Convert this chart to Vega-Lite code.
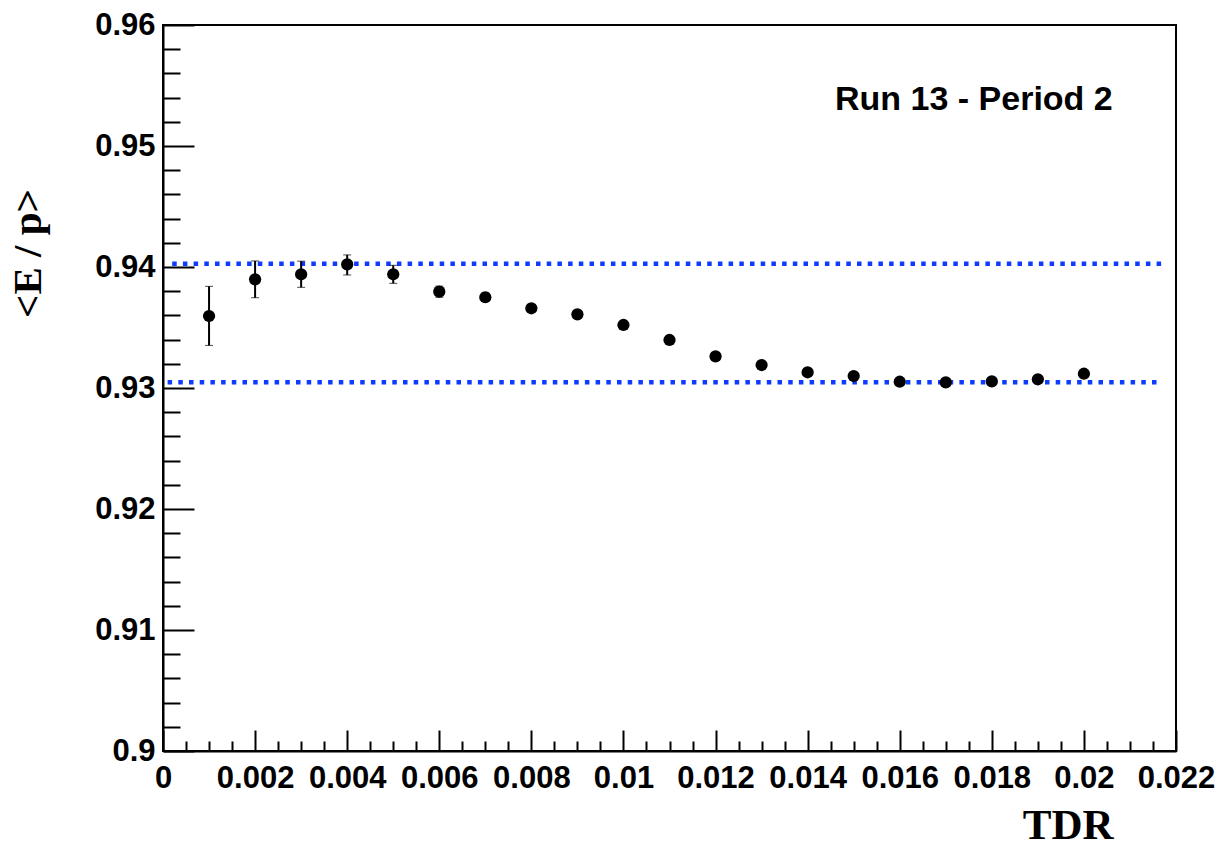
{
  "$schema": "https://vega.github.io/schema/vega-lite/v6.json",
  "width": 1013,
  "height": 726,
  "autosize": "none",
  "padding": {"left": 163, "top": 25, "right": 45, "bottom": 97},
  "background": "white",
  "config": {
    "view": {"stroke": "black", "strokeWidth": 2},
    "axis": {
      "grid": false,
      "labelFont": "Liberation Sans",
      "labelFontWeight": "bold",
      "labelFontSize": 31,
      "labelColor": "black",
      "tickColor": "black",
      "tickWidth": 2,
      "domainColor": "black",
      "domainWidth": 2,
      "titleFont": "Liberation Serif",
      "titleFontWeight": "bold",
      "titleColor": "black"
    }
  },
  "datasets": {
    "pts": [
      {"tdr": 0.001, "ep": 0.93595, "lo": 0.93352, "hi": 0.93840},
      {"tdr": 0.002, "ep": 0.93898, "lo": 0.93746, "hi": 0.94050},
      {"tdr": 0.003, "ep": 0.93940, "lo": 0.93832, "hi": 0.94048},
      {"tdr": 0.004, "ep": 0.94022, "lo": 0.93934, "hi": 0.94100},
      {"tdr": 0.005, "ep": 0.93940, "lo": 0.93865, "hi": 0.94014},
      {"tdr": 0.006, "ep": 0.93796, "lo": 0.93750, "hi": 0.93842},
      {"tdr": 0.007, "ep": 0.93750, "lo": 0.93715, "hi": 0.93785},
      {"tdr": 0.008, "ep": 0.93659, "lo": 0.93635, "hi": 0.93683},
      {"tdr": 0.009, "ep": 0.93609, "lo": 0.93587, "hi": 0.93631},
      {"tdr": 0.010, "ep": 0.93521, "lo": 0.93501, "hi": 0.93541},
      {"tdr": 0.011, "ep": 0.93397, "lo": 0.93379, "hi": 0.93415},
      {"tdr": 0.012, "ep": 0.93262, "lo": 0.93246, "hi": 0.93278},
      {"tdr": 0.013, "ep": 0.93190, "lo": 0.93175, "hi": 0.93205},
      {"tdr": 0.014, "ep": 0.93130, "lo": 0.93116, "hi": 0.93144},
      {"tdr": 0.015, "ep": 0.93099, "lo": 0.93086, "hi": 0.93112},
      {"tdr": 0.016, "ep": 0.93052, "lo": 0.93040, "hi": 0.93064},
      {"tdr": 0.017, "ep": 0.93047, "lo": 0.93035, "hi": 0.93059},
      {"tdr": 0.018, "ep": 0.93055, "lo": 0.93043, "hi": 0.93067},
      {"tdr": 0.019, "ep": 0.93072, "lo": 0.93060, "hi": 0.93084},
      {"tdr": 0.020, "ep": 0.93118, "lo": 0.93106, "hi": 0.93130}
    ],
    "lines": [
      {"x1": 0.0002, "x2": 0.0218, "y": 0.94027},
      {"x1": 0.0001, "x2": 0.0217, "y": 0.93047}
    ],
    "labels": [
      {"x": 0.01761, "y": 0.95298, "text": "Run 13 - Period 2"}
    ]
  },
  "layer": [
    {
      "data": {"name": "lines"},
      "mark": {"type": "rule", "color": "#0d3bff", "strokeWidth": 4.5, "strokeDash": [4.5, 6.2], "strokeCap": "butt"},
      "encoding": {
        "x": {
          "field": "x1", "type": "quantitative",
          "scale": {"domain": [0, 0.022], "nice": false, "zero": false},
          "axis": {
            "orient": "bottom",
            "values": [0.0005, 0.001, 0.0015, 0.0025, 0.003, 0.0035, 0.0045, 0.005, 0.0055, 0.0065, 0.007, 0.0075, 0.0085, 0.009, 0.0095, 0.0105, 0.011, 0.0115, 0.0125, 0.013, 0.0135, 0.0145, 0.015, 0.0155, 0.0165, 0.017, 0.0175, 0.0185, 0.019, 0.0195, 0.0205, 0.021, 0.0215],
            "labels": false, "domain": false, "tickSize": -10, "title": null
          }
        },
        "x2": {"field": "x2"},
        "y": {
          "field": "y", "type": "quantitative",
          "scale": {"domain": [0.9, 0.96], "nice": false, "zero": false},
          "axis": {
            "orient": "left",
            "values": [0.902, 0.904, 0.906, 0.908, 0.912, 0.914, 0.916, 0.918, 0.922, 0.924, 0.926, 0.928, 0.932, 0.934, 0.936, 0.938, 0.942, 0.944, 0.946, 0.948, 0.952, 0.954, 0.956, 0.958],
            "labels": false, "domain": false, "tickSize": -17, "title": null
          }
        }
      }
    },
    {
      "data": {"name": "pts"},
      "mark": {"type": "errorbar", "color": "black", "ticks": {"size": 8, "strokeWidth": 2, "color": "black"}, "rule": {"strokeWidth": 2, "color": "black"}},
      "encoding": {
        "x": {"field": "tdr", "type": "quantitative", "scale": {"domain": [0, 0.022], "nice": false, "zero": false}, "axis": null},
        "y": {"field": "lo", "type": "quantitative", "scale": {"domain": [0.9, 0.96], "nice": false, "zero": false}, "axis": null},
        "y2": {"field": "hi"}
      }
    },
    {
      "data": {"name": "pts"},
      "mark": {"type": "point", "shape": "circle", "filled": true, "color": "black", "size": 150, "opacity": 1},
      "encoding": {
        "x": {
          "field": "tdr", "type": "quantitative",
          "scale": {"domain": [0, 0.022], "nice": false, "zero": false},
          "axis": {
            "orient": "bottom",
            "values": [0, 0.002, 0.004, 0.006, 0.008, 0.01, 0.012, 0.014, 0.016, 0.018, 0.02, 0.022],
            "format": "~g",
            "tickSize": -21,
            "labelPadding": 33,
            "labelFlush": false,
            "labelOverlap": false,
            "title": "TDR",
            "titleFontSize": 43,
            "titleX": 950,
            "titleY": 87,
            "titleAlign": "right",
            "titleBaseline": "alphabetic",
            "titleAnchor": null
          }
        },
        "y": {
          "field": "ep", "type": "quantitative",
          "scale": {"domain": [0.9, 0.96], "nice": false, "zero": false},
          "axis": {
            "orient": "left",
            "values": [0.9, 0.91, 0.92, 0.93, 0.94, 0.95, 0.96],
            "format": "~g",
            "tickSize": -31,
            "labelPadding": 39,
            "labelFlush": false,
            "labelOverlap": false,
            "title": "<E / p>",
            "titleFontSize": 41,
            "titleAngle": -90,
            "titleX": -123,
            "titleY": 228,
            "titleAlign": "center",
            "titleBaseline": "alphabetic",
            "titleAnchor": null
          }
        }
      }
    },
    {
      "data": {"name": "labels"},
      "mark": {"type": "text", "font": "Liberation Sans", "fontWeight": "bold", "fontSize": 34, "color": "black", "align": "center", "baseline": "alphabetic"},
      "encoding": {
        "x": {"field": "x", "type": "quantitative", "scale": {"domain": [0, 0.022], "nice": false, "zero": false}, "axis": null},
        "y": {"field": "y", "type": "quantitative", "scale": {"domain": [0.9, 0.96], "nice": false, "zero": false}, "axis": null},
        "text": {"field": "text"}
      }
    }
  ],
  "resolve": {"axis": {"x": "independent", "y": "independent"}}
}
